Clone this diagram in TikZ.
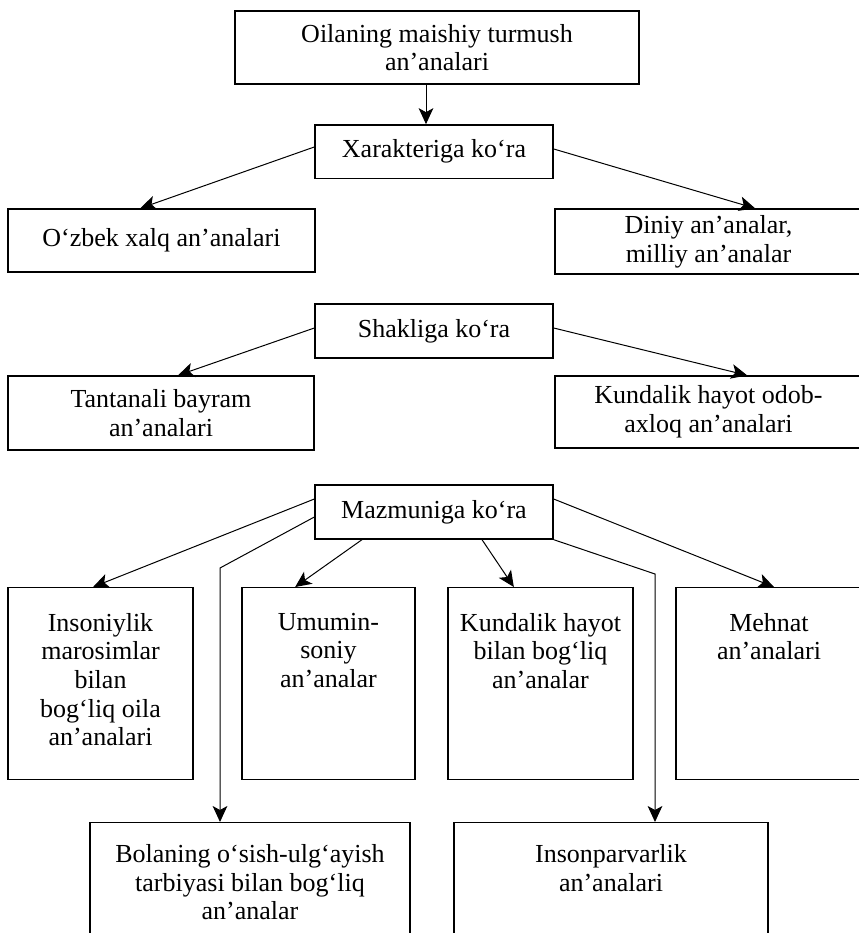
\documentclass[tikz,border=0pt]{standalone}
\usepackage{fontspec}
\setmainfont{Liberation Serif}
\usepackage{tikz}
\usetikzlibrary{arrows.meta}
\tikzset{
  box/.style={draw, line width=1pt, inner sep=0pt, align=center, font=\fontsize{19.5}{21.5}\selectfont},
  tallbox/.style={draw, line width=1pt, inner sep=0pt, anchor=north, font=\fontsize{19.5}{21.5}\selectfont},
  link/.style={line width=0.75pt, -{Stealth[length=12pt,width=11pt,inset=3pt]}},
}

\begin{document}
\begin{tikzpicture}[x=0.75pt,y=0.75pt,yscale=-1,xscale=1]
\useasboundingbox (0,0) rectangle (858,933);

% Text Node
\node[box, minimum width=303pt, minimum height=54.75pt] (top) at (437,47.5) {Oilaning maishiy turmush\\an’analari};
% Text Node
\node[box, minimum width=178.5pt, minimum height=40pt] (xar) at (434,151.5) {Xarakteriga ko‘ra};
% Text Node
\node[box, minimum width=230.25pt, minimum height=47.25pt] (ozbek) at (161.5,240.5) {O‘zbek xalq an’analari};
% Text Node
\node[box, minimum width=230.25pt, minimum height=48.75pt] (diniy) at (708.5,241.5) {Diniy an’analar,\\milliy an’analar};
% Text Node
\node[box, minimum width=178.5pt, minimum height=40.5pt] (shak) at (434,331) {Shakliga ko‘ra};
% Text Node
\node[box, minimum width=229.5pt, minimum height=55.5pt] (tant) at (161,413) {Tantanali bayram\\an’analari};
% Text Node
\node[box, minimum width=230.25pt, minimum height=54pt] (kodob) at (708.5,412) {Kundalik hayot odob-\\axloq an’analari};
% Text Node
\node[box, minimum width=178.5pt, minimum height=40.5pt] (mazm) at (434,512) {Mazmuniga ko‘ra};

% Text Node
\node[tallbox] (ins) at (100.5,587) {\begin{minipage}[c][144pt][t]{138.75pt}\centering
\vspace*{19pt}Insoniylik\\marosimlar\\bilan\\bog‘liq oila\\an’analari
\end{minipage}};
% Text Node
\node[tallbox] (umum) at (328.5,587) {\begin{minipage}[c][144pt][t]{129.75pt}\centering
\vspace*{19pt}Umumin-\\soniy\\an’analar
\end{minipage}};
% Text Node
\node[tallbox] (khay) at (540.5,587) {\begin{minipage}[c][144pt][t]{138.75pt}\centering
\vspace*{19pt}Kundalik hayot\\bilan bog‘liq\\an’analar
\end{minipage}};
% Text Node
\node[tallbox] (mehn) at (769,587) {\begin{minipage}[c][144pt][t]{139.5pt}\centering
\vspace*{19pt}Mehnat\\an’analari
\end{minipage}};
% Text Node
\node[tallbox] (bola) at (250,822) {\begin{minipage}[c][97.5pt][t]{240pt}\centering
\vspace*{16.3pt}Bolaning o‘sish-ulg‘ayish\\tarbiyasi bilan bog‘liq\\an’analar
\end{minipage}};
% Text Node
\node[tallbox] (parv) at (611,822) {\begin{minipage}[c][97.5pt][t]{235.5pt}\centering
\vspace*{16.3pt}Insonparvarlik\\an’analari
\end{minipage}};

%Straight Lines
\draw[link] ([xshift=-8.25pt]top.south) -- ([xshift=-6pt]xar.north);
\draw[link] ([yshift=-3.4pt]xar.west) -- ([xshift=-16pt]ozbek.north);
\draw[link] ([yshift=-1.9pt]xar.east) -- ([xshift=35pt]diniy.north);
%Straight Lines
\draw[link] ([yshift=-2.25pt]shak.west) -- ([xshift=12.75pt]tant.north);
\draw[link] ([yshift=-2.25pt]shak.east) -- ([xshift=29pt]kodob.north);
%Straight Lines
\draw[link] ([yshift=-9.75pt]mazm.west) -- ([xshift=-5.6pt]ins.north);
\coordinate (knee1) at (220,568);
\draw[link] ([yshift=3.75pt]mazm.west) -- (knee1) -- (knee1 |- bola.north);
\draw[link] ([xshift=-54pt]mazm.south) -- ([xshift=-25pt]umum.north);
\draw[link] ([xshift=36pt]mazm.south) -- ([xshift=-20pt]khay.north);
\coordinate (knee2) at (655,574);
\draw[link] (mazm.south east) -- (knee2) -- (knee2 |- parv.north);
\draw[link] ([yshift=-9.75pt]mazm.east) -- ([xshift=3.75pt]mehn.north);

\end{tikzpicture}
\end{document}
